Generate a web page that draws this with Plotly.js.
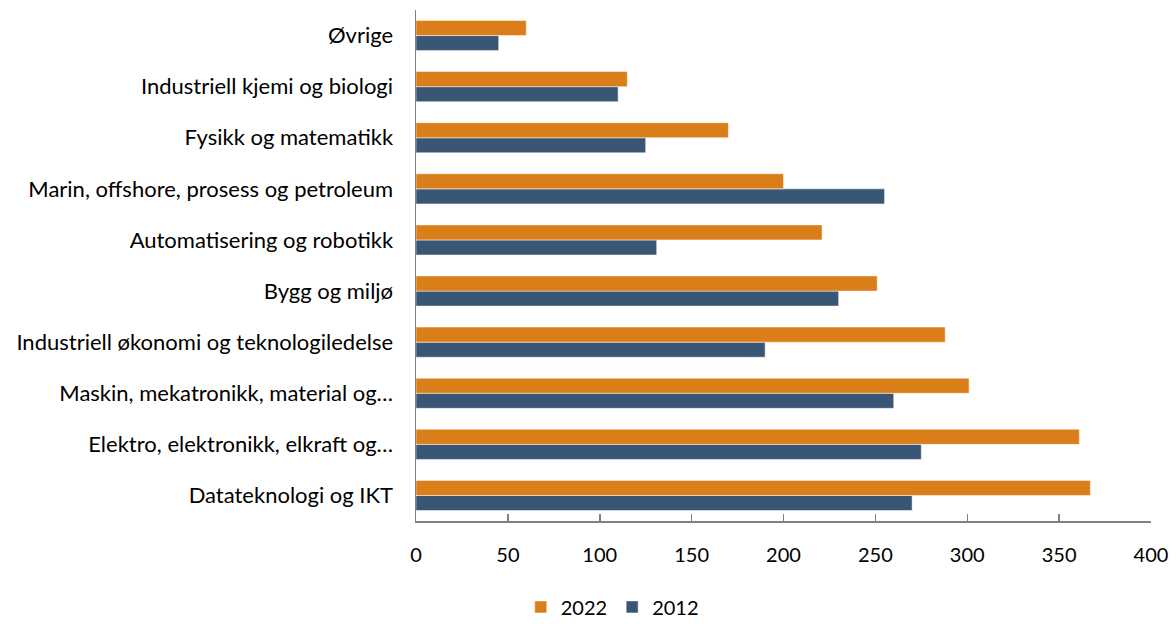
<!DOCTYPE html>
<html>
<head>
<meta charset="utf-8">
<script src="https://cdn.plot.ly/plotly-3.0.1.min.js"></script>
<style>html,body{margin:0;padding:0;background:#fff;}#chart{width:1176px;height:624px;}</style>
</head>
<body>
<div id="chart"></div>
<script>
const categories = [
  "Datateknologi og IKT",
  "Elektro, elektronikk, elkraft og…",
  "Maskin, mekatronikk, material og…",
  "Industriell økonomi og teknologiledelse",
  "Bygg og miljø",
  "Automatisering og robotikk",
  "Marin, offshore, prosess og petroleum",
  "Fysikk og matematikk",
  "Industriell kjemi og biologi",
  "Øvrige"
];
const values2022 = [367, 361, 301, 288, 251, 221, 200, 170, 115, 60];
const values2012 = [270, 275, 260, 190, 230, 131, 255, 125, 110, 45];
const xTicks = [0, 50, 100, 150, 200, 250, 300, 350, 400];

const font = "Lato, 'Open Sans', sans-serif";
const traces = [
  {type: "bar", orientation: "h", name: "2012", y: categories, x: values2012,
   marker: {color: "#3A5675", line: {color: "#ffffff", width: 0.5}}, hoverinfo: "x+y"},
  {type: "bar", orientation: "h", name: "2022", y: categories, x: values2022,
   marker: {color: "#D97E18", line: {color: "#ffffff", width: 0.5}}, hoverinfo: "x+y"}
];
const layout = {
  width: 1176, height: 624,
  margin: {l: 416, r: 25, t: 10, b: 103, autoexpand: false},
  paper_bgcolor: "#fff", plot_bgcolor: "#fff",
  barmode: "group", bargap: 0.41, bargroupgap: 0,
  font: {family: font, size: 18, color: "#000"},
  xaxis: {range: [0, 400], tickvals: xTicks, ticktext: xTicks.map(String),
    showgrid: false, zeroline: false, showline: true, linecolor: "#7f7f7f", linewidth: 1.5,
    ticks: "inside", ticklen: 7, tickcolor: "#7f7f7f", tickwidth: 1.5,
    ticklabelstandoff: 15, tickfont: {size: 20, family: font}, fixedrange: true, automargin: false},
  yaxis: {type: "category", categoryorder: "array", categoryarray: categories,
    range: [-0.5, 9.5], showgrid: false, zeroline: false, showline: true,
    linecolor: "#7f7f7f", linewidth: 1.5, ticks: "", ticklabelstandoff: 17,
    tickfont: {size: 22, family: font}, fixedrange: true, automargin: false},
  legend: {orientation: "h", x: 0.267, xanchor: "center", xref: "paper", y: -0.13, yanchor: "top",
    traceorder: "reversed", font: {size: 20, family: font}, itemwidth: 30},
  showlegend: true
};
Plotly.newPlot("chart", traces, layout, {displayModeBar: false, staticPlot: true});
</script>
</body>
</html>
